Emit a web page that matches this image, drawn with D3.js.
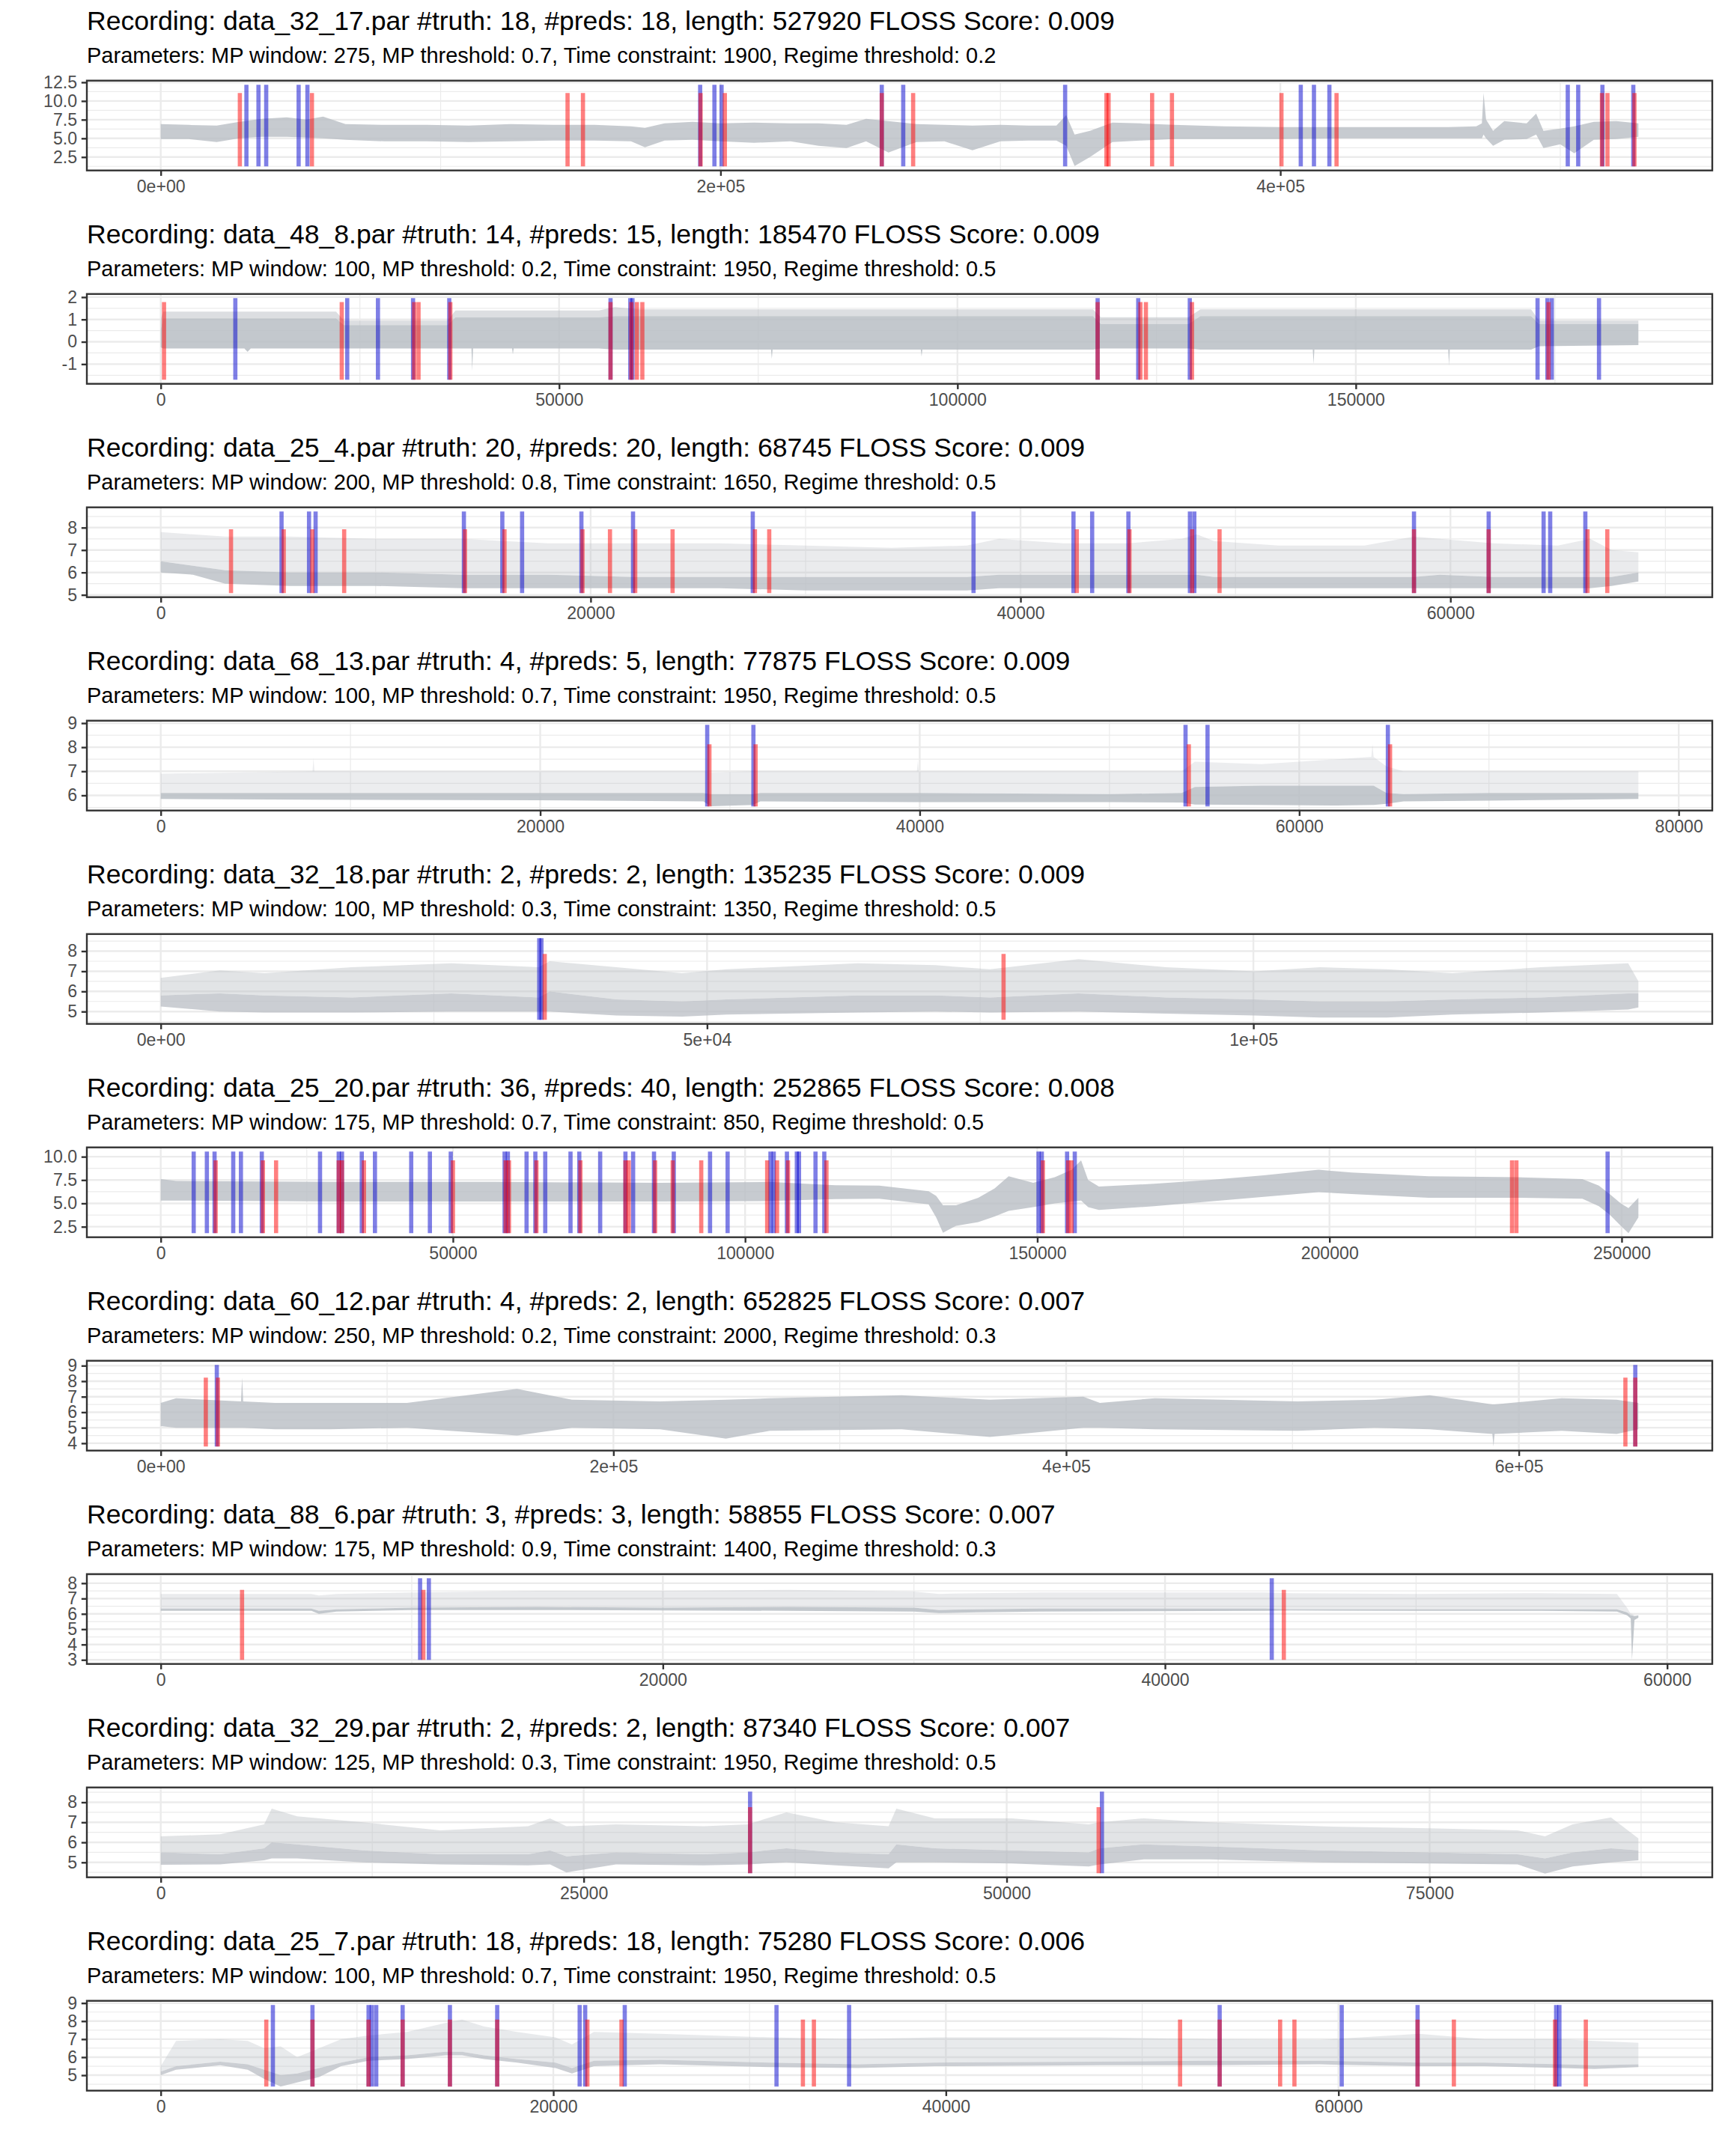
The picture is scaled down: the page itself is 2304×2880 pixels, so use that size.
<!DOCTYPE html>
<html>
<head>
<meta charset="utf-8">
<script src="https://cdn.jsdelivr.net/npm/d3@7"></script>
<style>
  html, body { margin: 0; padding: 0; background: #ffffff; }
  svg { display: block; }
</style>
</head>
<body>
<script>
// ---------------- DATA ----------------
const recordings = ["data_32_17.par","data_48_8.par","data_25_4.par","data_68_13.par","data_32_18.par",
                    "data_25_20.par","data_60_12.par","data_88_6.par","data_32_29.par","data_25_7.par"];
const nTruth = [18, 14, 20, 4, 2, 36, 4, 3, 2, 18];
const nPreds = [18, 15, 20, 5, 2, 40, 2, 3, 2, 18];
const lengths = [527920, 185470, 68745, 77875, 135235, 252865, 652825, 58855, 87340, 75280];
const flossScores = ["0.009","0.009","0.009","0.009","0.009","0.008","0.007","0.007","0.007","0.006"];
const mpWindow = [275, 100, 200, 100, 100, 175, 250, 175, 125, 100];
const mpThreshold = ["0.7","0.2","0.8","0.7","0.3","0.7","0.2","0.9","0.3","0.7"];
const timeConstraint = [1900, 1950, 1650, 1950, 1350, 850, 2000, 1400, 1950, 1950];
const regimeThreshold = ["0.2","0.5","0.5","0.5","0.5","0.5","0.3","0.3","0.5","0.5"];

// series range (min, max)
const dataMin = [1.25, -1.70, 5.08, 5.54, 4.59, 1.81, 3.79, 3.0, 4.46, 4.37];
const dataMax = [11.07, 1.78, 7.93, 8.12, 7.86, 9.6, 8.23, 7.57, 7.76, 8.09];

// predicted change points (blue, tall)
const predicted = [
  [30614, 34919, 37683, 49270, 52406, 192719, 197820, 200372, 257603, 265273, 323116, 407297, 412011, 417523, 502690, 506418, 515073, 526099],
  [9364, 23409, 27265, 31671, 36215, 56457, 58936, 59212, 117596, 122691, 129163, 172814, 174053, 174604, 180525],
  [5621, 6899, 7205, 14104, 15892, 16812, 19571, 21973, 27543, 37814, 42464, 43333, 45019, 47881, 48085, 58305, 61780, 64335, 64642, 66277],
  [28801, 31235, 54009, 55168, 64672],
  [34641, 34842],
  [5640, 7896, 9212, 12408, 13724, 17296, 27260, 30456, 31020, 34404, 36660, 42864, 46060, 49632, 58844, 59408, 62604, 64108, 65800, 70124, 71628, 75200, 79524, 80840, 84412, 87796, 94000, 97008, 104340, 104904, 107160, 108852, 109228, 112048, 113552, 150212, 150776, 155100, 156416, 247596],
  [24776, 651459],
  [10330, 10680, 44252],
  [34835, 55632],
  [5714, 7731, 10588, 10756, 10980, 12324, 14733, 17142, 21343, 21624, 23640, 31371, 35069, 53948, 60166, 64031, 71089, 71257]
];
// true change points (red, shorter)
const truth = [
  [28271, 54016, 145346, 150851, 192872, 201543, 257603, 268815, 337870, 338640, 354194, 361278, 400400, 420080, 514900, 516870, 526512],
  [413, 22720, 31809, 32360, 36353, 56457, 59074, 59762, 60450, 117596, 122966, 123655, 129438, 174191],
  [3270, 5723, 7052, 8534, 14155, 15994, 19622, 20900, 22075, 23813, 27645, 28309, 42617, 45070, 47983, 49260, 58305, 61780, 66379, 67299],
  [28917, 31351, 54183, 64788],
  [35144, 77136],
  [9400, 17484, 19740, 30456, 31020, 34780, 50008, 59032, 59596, 64296, 71816, 79524, 80088, 84600, 87608, 92496, 103776, 105468, 107348, 113928, 150964, 155288, 155852, 231240, 231992],
  [19918, 25262, 647086, 651459],
  [3239, 10461, 44733],
  [34835, 55437],
  [5378, 7731, 10588, 12324, 14733, 17142, 21736, 23472, 32716, 33276, 51931, 53948, 57028, 57757, 64031, 65880, 71033, 72602]
];

// signal envelopes: sample positions, lower envelope, top of dense core, top of spikes
const sigX = [
  [0, 10000, 20000, 28000, 36000, 45000, 52000, 58000, 66000, 80000, 95000, 110000, 125000, 140000, 155000, 168000, 173000, 180000, 190000, 200000, 212000, 225000, 235000, 245000, 252000, 260000, 270000, 280000, 290000, 300000, 310000, 320000, 323500, 326500, 332000, 340000, 350000, 362000, 380000, 400000, 420000, 440000, 460000, 470000, 472000, 472600, 473500, 476000, 480000, 488000, 491400, 494000, 500000, 505000, 512000, 520000, 527920],
  [0, 300, 10500, 10900, 11300, 22000, 23000, 36000, 37000, 39000, 39100, 39200, 44100, 44200, 44300, 55000, 57000, 60000, 76600, 76700, 76800, 95400, 95500, 95600, 117000, 118000, 129000, 130500, 144600, 144700, 144800, 161600, 161700, 161800, 172000, 173000, 185470],
  [0, 1500, 3000, 6000, 10000, 14000, 18000, 22000, 26000, 30000, 34000, 37500, 39000, 42000, 45000, 47500, 48200, 49000, 52000, 56000, 58300, 59500, 62000, 65000, 66500, 67500, 68745],
  [0, 8000, 8050, 8100, 20000, 28600, 29000, 31200, 31600, 39850, 39900, 39950, 50000, 53800, 54500, 58000, 62000, 63800, 63860, 63920, 64600, 65500, 70000, 77875],
  [0, 5400, 9500, 17500, 26600, 34600, 35600, 41700, 47700, 51800, 63800, 70900, 75900, 84000, 92000, 100100, 106100, 112200, 118200, 126300, 134300, 135235],
  [0, 2630, 28950, 57150, 85350, 104150, 115430, 122950, 131400, 132700, 133860, 136100, 139900, 142700, 145100, 149300, 153000, 155900, 157500, 158700, 160550, 170000, 179400, 188750, 198150, 203800, 216950, 232000, 243270, 246100, 247950, 249850, 251170, 252865],
  [0, 6800, 35460, 35950, 36440, 50500, 74800, 108800, 157400, 181700, 220550, 249700, 269100, 327400, 366300, 407600, 414900, 439200, 502300, 536300, 560600, 588300, 588800, 589300, 618900, 643200, 652825],
  [0, 6000, 6300, 7000, 10000, 15000, 20000, 25000, 30000, 31000, 32500, 35000, 44000, 45000, 50000, 55000, 58000, 58400, 58550, 58600, 58700, 58855],
  [0, 3510, 6110, 6560, 8060, 11960, 16510, 21710, 23010, 23980, 26910, 32100, 34700, 36980, 39900, 43020, 43480, 45750, 50300, 54850, 55500, 58100, 62000, 68500, 75000, 80200, 81820, 83450, 85720, 87340],
  [0, 780, 3030, 4430, 5270, 6110, 6950, 8070, 9190, 10590, 12550, 14510, 15350, 16470, 18150, 20110, 20950, 22070, 25430, 31030, 35520, 39440, 47840, 53440, 59040, 64090, 67450, 71370, 73050, 75280]
];
const sigLo = [
  [4.9, 4.9, 4.5, 5.0, 5.2, 5.2, 5.1, 5.0, 4.8, 4.6, 4.6, 4.5, 4.6, 4.7, 4.7, 4.6, 3.8, 4.7, 4.8, 4.6, 4.4, 4.6, 4.0, 3.7, 4.6, 3.1, 4.5, 4.6, 3.4, 4.6, 4.7, 4.7, 4.0, 1.3, 2.5, 4.5, 4.7, 4.9, 4.9, 4.9, 5.0, 5.0, 5.0, 5.0, 5.0, 5.5, 5.0, 4.0, 4.8, 4.9, 5.5, 3.7, 4.2, 3.0, 4.8, 4.9, 5.2],
  [-0.25, -0.3, -0.3, -0.45, -0.3, -0.3, -0.3, -0.3, -0.3, -0.3, -1.3, -0.3, -0.3, -0.57, -0.3, -0.3, -0.35, -0.35, -0.35, -0.77, -0.35, -0.35, -0.66, -0.35, -0.35, -0.3, -0.3, -0.35, -0.35, -1.0, -0.35, -0.35, -1.07, -0.35, -0.35, -0.2, -0.15],
  [6.0, 5.9, 5.5, 5.4, 5.4, 5.3, 5.3, 5.3, 5.3, 5.2, 5.2, 5.2, 5.3, 5.3, 5.3, 5.3, 5.3, 5.3, 5.3, 5.3, 5.3, 5.3, 5.3, 5.3, 5.3, 5.4, 5.6],
  [5.85, 5.82, 5.82, 5.82, 5.8, 5.75, 5.55, 5.6, 5.75, 5.72, 5.72, 5.72, 5.72, 5.7, 5.62, 5.6, 5.58, 5.6, 5.6, 5.6, 5.65, 5.75, 5.78, 5.85],
  [5.25, 5.0, 4.95, 4.95, 5.0, 5.0, 5.0, 4.8, 4.75, 4.85, 4.95, 5.0, 4.95, 5.0, 4.9, 4.8, 4.7, 4.7, 4.85, 4.95, 5.1, 5.2],
  [5.3, 5.3, 5.2, 5.2, 5.2, 5.25, 5.45, 5.5, 4.9, 3.5, 1.85, 2.6, 3.0, 3.6, 4.2, 4.6, 5.0, 5.2, 5.3, 4.6, 4.3, 4.7, 5.2, 5.7, 6.2, 6.0, 5.6, 5.6, 5.5, 4.7, 3.8, 2.6, 1.81, 3.5],
  [5.1, 5.0, 5.0, 5.0, 5.0, 4.9, 4.9, 5.0, 4.5, 5.0, 4.9, 4.3, 4.8, 4.9, 4.4, 5.0, 5.0, 4.9, 4.8, 5.0, 4.9, 4.6, 3.79, 4.6, 4.8, 4.6, 4.9],
  [6.2, 6.2, 6.0, 6.15, 6.25, 6.25, 6.22, 6.2, 6.15, 6.05, 6.1, 6.15, 6.2, 6.22, 6.2, 6.2, 6.15, 5.9, 5.7, 3.0, 5.6, 5.75],
  [4.88, 4.9, 5.1, 5.2, 5.2, 5.0, 4.9, 4.85, 4.9, 4.5, 4.9, 4.85, 4.9, 5.0, 4.85, 4.7, 5.0, 5.0, 4.95, 4.8, 4.9, 5.15, 5.15, 5.0, 4.95, 4.9, 4.44, 4.8, 5.0, 5.1],
  [5.0, 5.3, 5.55, 5.3, 4.8, 4.37, 4.6, 4.9, 5.5, 5.8, 5.9, 6.1, 6.1, 5.9, 5.7, 5.4, 5.1, 5.5, 5.6, 5.45, 5.4, 5.5, 5.55, 5.55, 5.6, 5.5, 5.5, 5.4, 5.35, 5.45]
];
const sigMid = [
  null,
  [0.55, 1.05, 1.05, 1.05, 1.05, 1.05, 0.75, 0.75, 1.1, 1.1, 1.1, 1.1, 1.1, 1.1, 1.1, 1.1, 1.15, 1.15, 1.15, 1.15, 1.15, 1.15, 1.15, 1.15, 1.15, 0.8, 0.8, 1.15, 1.15, 1.15, 1.15, 1.15, 1.15, 1.15, 1.15, 0.8, 0.8],
  [6.5, 6.3, 6.1, 6.0, 6.0, 5.9, 5.9, 5.8, 5.8, 5.8, 5.8, 5.8, 5.9, 5.9, 5.9, 5.9, 5.9, 5.8, 5.8, 5.8, 5.8, 5.9, 5.8, 5.8, 5.8, 5.8, 6.0],
  [6.1, 6.1, 6.1, 6.1, 6.1, 6.1, 6.05, 6.05, 6.1, 6.1, 6.1, 6.1, 6.05, 6.1, 6.35, 6.4, 6.4, 6.4, 6.4, 6.4, 6.1, 6.05, 6.1, 6.1],
  [5.8, 5.9, 5.8, 5.7, 5.9, 5.7, 6.0, 5.6, 5.5, 5.6, 5.8, 5.8, 5.7, 5.9, 5.7, 5.6, 5.5, 5.5, 5.6, 5.7, 5.9, 5.9],
  null,
  null,
  [6.35, 6.35, 6.2, 6.3, 6.4, 6.45, 6.4, 6.45, 6.4, 6.25, 6.3, 6.35, 6.35, 6.3, 6.3, 6.3, 6.3, 6.1, 5.9, 5.9, 5.85, 5.9],
  [5.5, 5.4, 5.7, 6.0, 5.9, 5.6, 5.4, 5.4, 5.6, 5.3, 5.5, 5.4, 5.5, 5.7, 5.5, 5.4, 5.9, 5.7, 5.6, 5.5, 5.7, 5.9, 5.8, 5.6, 5.5, 5.4, 5.2, 5.5, 5.7, 5.6],
  [5.2, 5.5, 5.75, 5.6, 5.3, 5.0, 5.1, 5.4, 5.7, 6.0, 6.1, 6.3, 6.3, 6.1, 5.9, 5.7, 5.4, 5.8, 5.85, 5.7, 5.6, 5.7, 5.75, 5.8, 5.8, 5.7, 5.7, 5.6, 5.55, 5.6]
];
const sigHi = [
  [6.9, 6.8, 6.7, 7.2, 7.6, 7.8, 7.5, 7.9, 6.9, 6.8, 6.8, 6.7, 6.9, 6.8, 6.8, 6.6, 6.4, 7.0, 7.2, 7.0, 7.1, 7.0, 7.0, 6.8, 7.6, 7.3, 6.9, 6.8, 6.7, 6.8, 6.7, 6.7, 8.1, 5.5, 6.0, 7.1, 7.0, 6.8, 6.6, 6.5, 6.5, 6.5, 6.5, 6.6, 7.0, 11.07, 7.5, 6.0, 7.3, 7.0, 8.3, 6.0, 6.3, 6.6, 7.2, 7.3, 7.0],
  [1.0, 1.35, 1.35, 1.35, 1.35, 1.35, 0.95, 0.95, 1.4, 1.4, 1.4, 1.4, 1.4, 1.4, 1.4, 1.4, 1.55, 1.45, 1.45, 1.45, 1.45, 1.45, 1.45, 1.45, 1.45, 1.1, 1.1, 1.45, 1.45, 1.45, 1.45, 1.45, 1.45, 1.45, 1.45, 0.95, 0.95],
  [7.8, 7.7, 7.6, 7.6, 7.5, 7.5, 7.3, 7.3, 7.3, 7.2, 7.1, 7.2, 7.5, 7.3, 7.3, 7.5, 7.7, 7.4, 7.2, 7.2, 7.6, 7.5, 7.3, 7.2, 7.5, 7.0, 6.9],
  [6.9, 7.0, 7.56, 7.0, 7.0, 7.0, 6.95, 7.0, 7.0, 7.0, 7.44, 7.0, 7.0, 7.0, 7.4, 7.3, 7.5, 7.6, 8.12, 7.6, 7.2, 7.0, 7.0, 7.0],
  [6.67, 7.04, 6.9, 7.2, 7.4, 7.2, 7.5, 7.2, 6.9, 7.1, 7.4, 7.3, 7.1, 7.6, 7.2, 7.0, 7.2, 7.1, 6.9, 7.2, 7.4, 6.5],
  [7.6, 7.4, 7.3, 7.3, 7.2, 7.3, 6.95, 6.9, 6.3, 5.8, 4.8, 4.8, 5.6, 6.6, 7.9, 7.2, 7.8, 8.6, 9.6, 7.5, 6.8, 7.1, 7.5, 8.0, 8.6, 8.3, 7.9, 7.8, 7.6, 6.9, 6.0, 5.0, 4.5, 5.6],
  [6.6, 6.9, 6.7, 8.23, 6.7, 6.6, 6.6, 6.6, 7.5, 6.8, 6.7, 6.8, 6.9, 7.1, 6.8, 7.0, 6.6, 6.9, 6.7, 6.8, 7.1, 6.5, 6.5, 6.5, 6.9, 6.8, 6.6],
  [7.3, 7.3, 7.2, 7.3, 7.4, 7.5, 7.5, 7.57, 7.45, 7.3, 7.35, 7.4, 7.4, 7.35, 7.3, 7.35, 7.3, 6.4, 6.0, 6.0, 5.9, 5.9],
  [6.3, 6.4, 6.9, 7.68, 7.3, 7.0, 6.6, 6.8, 7.2, 6.8, 6.9, 6.8, 6.9, 7.5, 7.0, 6.8, 7.68, 7.2, 7.2, 6.9, 7.0, 7.2, 7.0, 6.8, 6.7, 6.6, 6.3, 6.9, 7.24, 6.2],
  [5.5, 6.9, 7.0, 6.9, 6.5, 6.6, 6.0, 6.5, 7.0, 7.2, 7.4, 7.9, 8.09, 7.7, 7.4, 7.1, 6.7, 7.4, 7.3, 7.1, 7.0, 7.1, 7.1, 7.0, 6.95, 7.3, 7.0, 7.0, 6.9, 6.8]
];

// axis ticks
const yTicks = [[2.5, 5, 7.5, 10, 12.5], [-1, 0, 1, 2], [5, 6, 7, 8], [6, 7, 8, 9], [5, 6, 7, 8],
                [2.5, 5, 7.5, 10], [4, 5, 6, 7, 8, 9], [3, 4, 5, 6, 7, 8], [5, 6, 7, 8], [5, 6, 7, 8, 9]];
const yTickLabels = [["2.5","5.0","7.5","10.0","12.5"], ["-1","0","1","2"], ["5","6","7","8"], ["6","7","8","9"], ["5","6","7","8"],
                     ["2.5","5.0","7.5","10.0"], ["4","5","6","7","8","9"], ["3","4","5","6","7","8"], ["5","6","7","8"], ["5","6","7","8","9"]];
const xTicks = [[0, 200000, 400000], [0, 50000, 100000, 150000], [0, 20000, 40000, 60000], [0, 20000, 40000, 60000, 80000],
                [0, 50000, 100000], [0, 50000, 100000, 150000, 200000, 250000], [0, 200000, 400000, 600000],
                [0, 20000, 40000, 60000], [0, 25000, 50000, 75000], [0, 20000, 40000, 60000]];
const xTickLabels = [["0e+00","2e+05","4e+05"], ["0","50000","100000","150000"], ["0","20000","40000","60000"], ["0","20000","40000","60000","80000"],
                     ["0e+00","5e+04","1e+05"], ["0","50000","100000","150000","200000","250000"], ["0e+00","2e+05","4e+05","6e+05"],
                     ["0","20000","40000","60000"], ["0","25000","50000","75000"], ["0","20000","40000","60000"]];

// ---------------- STYLE / LAYOUT ----------------
const W = 2304, H = 2880;
const style = {
  left: 116, right: 2287, block: 285, panelTop: 107.7, panelH: 120,
  titleY: 40, subtitleY: 84, titleSize: 35.6, subtitleSize: 29.0, axisSize: 23.1,
  font: "'Liberation Sans', Arial, Helvetica, sans-serif",
  grid: "#ebebeb", gridMajorW: 2.4, gridMinorW: 1.2, border: "#333333", borderW: 2.4,
  tickColor: "#333333", tickLen: 7.2, tickPad: 5.8, tickText: "#4d4d4d",
  sigColor: "#b9bec4", segW: 5.6, predColor: "#0000cd", truthColor: "#ff0000", segAlpha: 0.5,
  bandAlpha: [0.8, 0.85, 0.8, 0.85, 0.75, 0.8, 0.8, 0.85, 0.75, 0.75],
  spikeAlpha: [0, 0.5, 0.3, 0.28, 0.42, 0, 0, 0.3, 0.42, 0.32]
};

const svg = d3.select("body").append("svg")
  .attr("width", W).attr("height", H)
  .attr("viewBox", `0 0 ${W} ${H}`)
  .style("font-family", style.font);
svg.append("rect").attr("width", W).attr("height", H).attr("fill", "#ffffff");

function minorBreaks(ticks, domain) {
  const step = ticks[1] - ticks[0];
  const out = [];
  for (let k = -1; k < ticks.length; k++) {
    const v = (k < 0 ? ticks[0] - step : ticks[k]) + step / 2;
    if (v >= domain[0] && v <= domain[1]) out.push(v);
  }
  return out;
}

recordings.forEach((rec, i) => {
  const g = svg.append("g").attr("transform", `translate(0,${i * style.block})`);
  const L = lengths[i];
  const x = d3.scaleLinear().domain([-0.05 * L, 1.05 * L]).range([style.left, style.right]);
  const yLo = dataMin[i], yHi = dataMax[i] * 1.1, r = yHi - yLo;
  const top = style.panelTop, bot = style.panelTop + style.panelH;
  const y = d3.scaleLinear().domain([yLo - 0.05 * r, yHi + 0.05 * r]).range([bot, top]);

  // titles
  g.append("text").attr("x", style.left).attr("y", style.titleY)
    .attr("font-size", style.titleSize).attr("fill", "#000")
    .text(`Recording: ${rec} #truth: ${nTruth[i]}, #preds: ${nPreds[i]}, length: ${L} FLOSS Score: ${flossScores[i]}`);
  g.append("text").attr("x", style.left).attr("y", style.subtitleY)
    .attr("font-size", style.subtitleSize).attr("fill", "#000")
    .text(`Parameters: MP window: ${mpWindow[i]}, MP threshold: ${mpThreshold[i]}, Time constraint: ${timeConstraint[i]}, Regime threshold: ${regimeThreshold[i]}`);

  const clipId = `clip${i}`;
  g.append("clipPath").attr("id", clipId).append("rect")
    .attr("x", style.left).attr("y", top).attr("width", style.right - style.left).attr("height", style.panelH);

  const panel = g.append("g").attr("clip-path", `url(#${clipId})`);
  panel.append("rect").attr("x", style.left).attr("y", top)
    .attr("width", style.right - style.left).attr("height", style.panelH).attr("fill", "#fff");

  // grid
  const xd = x.domain(), yd = y.domain();
  minorBreaks(yTicks[i], yd).forEach(v => panel.append("line")
    .attr("x1", style.left).attr("x2", style.right).attr("y1", y(v)).attr("y2", y(v))
    .attr("stroke", style.grid).attr("stroke-width", style.gridMinorW));
  minorBreaks(xTicks[i], xd).forEach(v => panel.append("line")
    .attr("x1", x(v)).attr("x2", x(v)).attr("y1", top).attr("y2", bot)
    .attr("stroke", style.grid).attr("stroke-width", style.gridMinorW));
  yTicks[i].forEach(v => panel.append("line")
    .attr("x1", style.left).attr("x2", style.right).attr("y1", y(v)).attr("y2", y(v))
    .attr("stroke", style.grid).attr("stroke-width", style.gridMajorW));
  xTicks[i].forEach(v => panel.append("line")
    .attr("x1", x(v)).attr("x2", x(v)).attr("y1", top).attr("y2", bot)
    .attr("stroke", style.grid).attr("stroke-width", style.gridMajorW));

  // signal
  const pts = sigX[i].map((xv, k) => ({ x: xv, lo: sigLo[i][k], mid: sigMid[i] ? sigMid[i][k] : sigHi[i][k], hi: sigHi[i][k] }));
  const core = d3.area().x(d => x(d.x)).y0(d => y(d.lo)).y1(d => y(d.mid));
  panel.append("path").datum(pts).attr("d", core)
    .attr("fill", style.sigColor).attr("fill-opacity", style.bandAlpha[i]);
  if (sigMid[i]) {
    const spikes = d3.area().x(d => x(d.x)).y0(d => y(d.mid)).y1(d => y(d.hi));
    panel.append("path").datum(pts).attr("d", spikes)
      .attr("fill", style.sigColor).attr("fill-opacity", style.spikeAlpha[i]);
  }

  // change points
  panel.selectAll(null).data(predicted[i]).enter().append("line")
    .attr("x1", d => x(d)).attr("x2", d => x(d))
    .attr("y1", y(dataMin[i])).attr("y2", y(dataMax[i] * 1.1))
    .attr("stroke", style.predColor).attr("stroke-opacity", style.segAlpha).attr("stroke-width", style.segW);
  panel.selectAll(null).data(truth[i]).enter().append("line")
    .attr("x1", d => x(d)).attr("x2", d => x(d))
    .attr("y1", y(dataMin[i])).attr("y2", y(dataMax[i]))
    .attr("stroke", style.truthColor).attr("stroke-opacity", style.segAlpha).attr("stroke-width", style.segW);

  // border
  g.append("rect").attr("x", style.left).attr("y", top)
    .attr("width", style.right - style.left).attr("height", style.panelH)
    .attr("fill", "none").attr("stroke", style.border).attr("stroke-width", style.borderW);

  // axes
  const ya = g.append("g").attr("transform", `translate(${style.left},0)`)
    .call(d3.axisLeft(y).tickValues(yTicks[i]).tickFormat((d, j) => yTickLabels[i][j])
      .tickSize(style.tickLen).tickPadding(style.tickPad));
  const xa = g.append("g").attr("transform", `translate(0,${bot})`)
    .call(d3.axisBottom(x).tickValues(xTicks[i]).tickFormat((d, j) => xTickLabels[i][j])
      .tickSize(style.tickLen).tickPadding(style.tickPad));
  [ya, xa].forEach(a => {
    a.select(".domain").remove();
    a.selectAll(".tick line").attr("stroke", style.tickColor).attr("stroke-width", style.borderW);
    a.selectAll(".tick text").attr("fill", style.tickText).attr("font-size", style.axisSize)
      .attr("font-family", style.font);
  });
});
</script>
</body>
</html>
